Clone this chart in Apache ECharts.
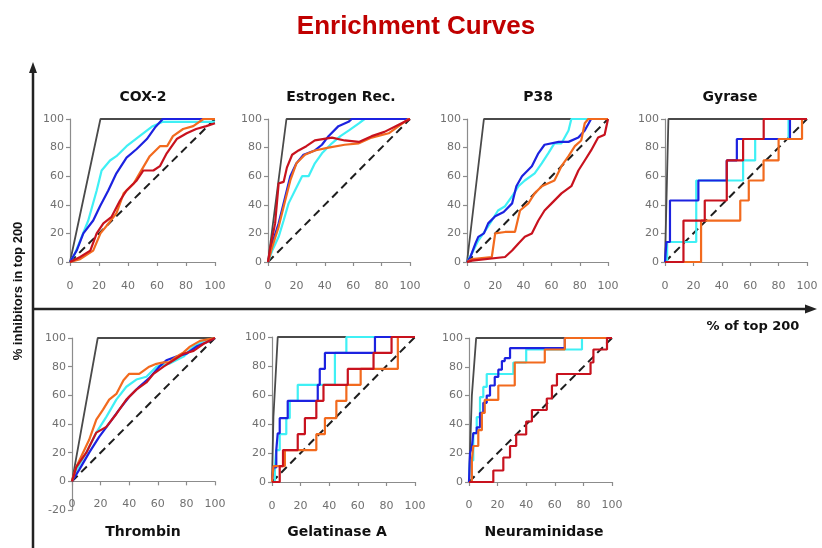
<!DOCTYPE html>
<html><head><meta charset="utf-8">
<script src="https://cdn.jsdelivr.net/npm/echarts/dist/echarts.min.js"></script>
<style>html,body{margin:0;padding:0;background:#fff}#c{width:822px;height:548px}</style>
</head><body><div id="c"></div>
<script>
// ---- data (x = % of top 200, y = % inhibitors) ----
var ticks = [0, 20, 40, 60, 80, 100];
var panelNames = ['COX-2', 'Estrogen Rec.', 'P38', 'Gyrase', 'Thrombin', 'Gelatinase A', 'Neuraminidase'];
var randomLine = [[0, 0], [100, 100]];

var cox2Ideal = [[0,0],[21,100],[100,100]];
var cox2Cyan = [[0,0],[3,5],[7,15],[12.6,29],[18.4,50],[21.8,64],[27.6,71],[32,74],[39,81],[48,88],[57,95],[64,98],[100,98]];
var cox2Blue = [[0,0],[4.6,8],[9.2,20],[16,29],[20.7,39],[26.4,50],[32,62],[39,73],[46,79],[53,86],[58.6,94],[64,100],[100,100]];
var cox2Orange = [[0,0],[7,2],[16,8],[21,20],[25,25],[32,34],[37,48],[44,55],[48,62],[55,74],[62,81],[67,81],[71,88],[78,93],[85,95],[92,100],[100,100]];
var cox2Red = [[0,0],[7,3.5],[14,8],[18.4,20],[23,27],[28.7,31.6],[34.5,43],[39,50],[46,57],[50.6,64],[57.5,64],[62,67],[66.7,76],[73.6,86],[80.5,90],[87,93],[94,95],[100,97]];

var estIdeal = [[0,0],[13,100],[100,100]];
var estCyan = [[0,0],[3,8],[7.5,17.6],[11,29],[14.5,41],[19,50],[24,60],[28.6,60],[33,69],[38,76],[45,83],[51,88],[57,92],[64,97],[68,100],[100,100]];
var estBlue = [[0,0],[3,13],[7.5,27],[11,41],[15.7,60],[20,69],[25,75],[33,78],[38,82],[42.6,88],[49.6,95],[56.7,98],[59,100],[100,100]];
var estOrange = [[0,0],[3,10.5],[7.5,24.6],[11,38.6],[15.7,57],[20,69],[26,75],[33,78],[42.6,80],[54,82],[64,83],[73,87],[85,90],[92,95],[99,100],[100,100]];
var estRed = [[0,0],[1.6,10],[5,27],[7.5,55],[11,56],[13.3,66],[17,75],[21.5,78],[27,81],[33,85],[45,87],[54,85],[64,84],[73,88],[82,91],[92,96],[100,100]];

var p38Ideal = [[0,0],[12,100],[100,100]];
var p38Cyan = [[0,0],[3.5,6],[8,15],[13,22],[17.6,29],[22,36],[27,39],[32,46],[36.5,53],[41,57],[48,62],[53,69],[57.6,76],[62,83],[67,83],[72,92],[74,100],[100,100]];
var p38Blue = [[0,0],[2.4,3.5],[6,13],[8,17.6],[12,20],[15,27],[20,32],[26,35],[32,41],[35,53],[39,60],[46,67],[50.6,76],[55,82],[65,84],[72,84],[79,87],[83.5,92],[88,100],[100,100]];
var p38Orange = [[0,0],[3.5,2],[17.6,3.5],[20,20],[27,21],[34,21],[37.6,36],[43.5,41],[48,48],[53,53],[62,57],[67,67],[72,74],[76.5,81],[81,85],[83.5,97],[86,100],[100,100]];
var p38Red = [[0,0],[3.5,1],[27,3.5],[32,8],[36.5,13],[41,17.6],[46,20],[50.6,29],[55,36],[60,41],[67,48],[74,53],[79,64],[83.5,71],[88,78],[93,87],[97.6,89],[100,100]];

// step curves: [x where the step happens, value after the step]
var gyrIdeal = [[0,0],[2.4,100],[100,100]];
var gyrCyan = [[0,0],[1.5,14],[22,57],[55,71],[63.5,86],[87,100],[100,100]];
var gyrBlue = [[0,0],[1,14],[3.5,43],[23.5,57],[43.5,71],[50.6,86],[88,100],[100,100]];
var gyrOrange = [[0,0],[25.4,29],[53,43],[59,57],[69.4,71],[80,86],[96.5,100],[100,100]];
var gyrRed = [[0,0],[13,29],[28,43],[43.5,71],[55,86],[69.5,100],[100,100]];

var thrIdeal = [[0,0],[18,100],[100,100]];
var thrCyan = [[0,0],[3,8],[10,20],[17,34],[24,45],[31,57],[38,66],[45,71],[52,73],[59,80],[68,82],[78,87],[85,94],[92,98],[100,100]];
var thrBlue = [[0,0],[5,8],[12,20],[19,31],[26,40.5],[33,50],[40,59],[47,66],[54,72],[61,80],[66,84.5],[73,87],[80,89],[87,94],[94,97],[100,100]];
var thrOrange = [[0,0],[3,10],[7.7,20],[12,29],[17,43],[21.7,50],[26,57],[31,61],[36,70.6],[40,75],[47,75],[54,80],[59,82],[64,83],[68,83],[73,87],[78,90],[82.5,94],[89.5,98],[100,100]];
var thrRed = [[0,0],[3,10],[10,20],[17,34],[24,38],[31,47],[38,57],[45,64],[52,69],[57,75],[64,80],[71,84.5],[78,89],[85,91],[92,96],[100,100]];

var gelIdeal = [[0,0],[1,45],[4,100],[100,100]];
var gelCyan = [[0,0],[2,11],[3,22],[5.4,33],[10,44],[12.4,56],[18,67],[44,89],[52,100],[100,100]];
var gelBlue = [[0,0],[1,10],[3,22],[4,33.6],[5.4,44],[11,56],[32,67],[33.4,78],[37,89],[72,100],[100,100]];
var gelOrange = [[0,0],[1,11],[9,22],[31,33],[37,44],[45,56],[52,67],[62,78],[88,100],[100,100]];
var gelRed = [[0,0],[5.4,11],[7.7,22],[18,33],[23,44],[31,56],[36,67],[53,78],[71,89],[83.6,100],[100,100]];

var neuIdeal = [[0,0],[2,60],[5,100],[100,100]];
var neuCyan = [[0,0],[0.7,15],[3,34],[5.4,45],[7.7,59],[10,66],[12.4,75],[31,83],[40,92],[79,100],[100,100]];
var neuBlue = [[0,0],[0.7,20],[2,24],[3,34],[5.4,38],[7.7,48],[10,55],[12.4,60],[14.7,67],[18,73],[20.5,78],[23,84],[25,86],[28.7,93],[67,100],[100,100]];
var neuOrange = [[0,0],[2,15],[3,25],[6.5,36],[9,48],[11,57],[20.5,67],[32,83],[53,92],[67,100],[100,100]];
var neuRed = [[0,0],[17,8],[24,17],[28.7,25],[33,33],[40,42],[44,50],[54.4,58],[58,67],[61.5,75],[85,83],[87,92],[96.5,100],[100,100]];

// ---- layout ----
var panels = [
  {grid:{left:70,top:119,width:145,height:143}, ymin:0, step:false, lm:19, d:[cox2Ideal,cox2Cyan,cox2Blue,cox2Orange,cox2Red]},
  {grid:{left:268,top:119,width:142,height:143}, ymin:0, step:false, lm:19, d:[estIdeal,estCyan,estBlue,estOrange,estRed]},
  {grid:{left:467,top:119,width:141,height:143}, ymin:0, step:false, lm:19, d:[p38Ideal,p38Cyan,p38Blue,p38Orange,p38Red]},
  {grid:{left:665,top:119,width:142,height:143}, ymin:0, step:'end', lm:19, d:[gyrIdeal,gyrCyan,gyrBlue,gyrOrange,gyrRed]},
  {grid:{left:72,top:338,width:143,height:172}, ymin:-20, step:false, lm:-11, d:[thrIdeal,thrCyan,thrBlue,thrOrange,thrRed]},
  {grid:{left:272,top:337,width:143,height:145}, ymin:0, step:'end', lm:19, d:[gelIdeal,gelCyan,gelBlue,gelOrange,gelRed]},
  {grid:{left:469,top:338,width:143,height:144}, ymin:0, step:'end', lm:18, d:[neuIdeal,neuCyan,neuBlue,neuOrange,neuRed]}
];
var colors = {cyan:'#3ff0f5', blue:'#1c22e0', orange:'#f26a1e', red:'#c8121e', ideal:'#4a4a4a', rnd:'#1e1e1e'};
var axisLineStyle = {color:'#8c8c8c', width:1.2};
var labelStyle = {color:'#707070', fontSize:11, fontFamily:'DejaVu Sans'};

var grids = [], xAxes = [], yAxes = [], series = [];
panels.forEach(function(p, i){
  grids.push(p.grid);
  xAxes.push({gridIndex:i, type:'value', min:0, max:100, interval:20,
    axisLine:{show:true, onZero:true, lineStyle:axisLineStyle},
    axisTick:{show:true, length:4, lineStyle:axisLineStyle},
    axisLabel:Object.assign({margin:p.lm}, labelStyle), splitLine:{show:false}});
  yAxes.push({gridIndex:i, type:'value', min:p.ymin, max:100, interval:20,
    axisLine:{show:true, lineStyle:axisLineStyle},
    axisTick:{show:true, length:4, lineStyle:axisLineStyle},
    axisLabel:Object.assign({margin:6}, labelStyle), splitLine:{show:false}});
  var base = {type:'line', xAxisIndex:i, yAxisIndex:i, showSymbol:false, symbol:'none', silent:true};
  series.push(Object.assign({}, base, {data:p.d[0], lineStyle:{color:colors.ideal, width:1.8}}));
  series.push(Object.assign({}, base, {data:randomLine, lineStyle:{color:colors.rnd, width:2, type:[8,5]}}));
  var cs = [colors.cyan, colors.blue, colors.orange, colors.red];
  for (var k = 0; k < 4; k++) {
    series.push(Object.assign({}, base, {data:p.d[k+1], step:p.step, lineStyle:{color:cs[k], width:2.2}}));
  }
});

function txt(x, y, s, size, color, family, rot) {
  return {type:'text', x:x, y:y, rotation:rot||0, z:100,
    style:{text:s, fill:color||'#111', font:'bold '+size+'px '+(family||'"DejaVu Sans"'), textAlign:'center', textVerticalAlign:'middle'}};
}
var graphics = [
  txt(416, 27, 'Enrichment Curves', 26, '#c00000', '"Liberation Sans", Arial'),
  txt(143, 97, panelNames[0], 14), txt(341, 97, panelNames[1], 14), txt(538, 97, panelNames[2], 14), txt(730, 97, panelNames[3], 14),
  txt(143, 532, panelNames[4], 14), txt(337, 532, panelNames[5], 14), txt(544, 532, panelNames[6], 14),
  txt(753, 327, '% of top 200', 13),
  txt(18, 291, '% inhibitors in top 200', 13, '#111', '"Liberation Sans", Arial', Math.PI/2),
  {type:'line', z:100, shape:{x1:33, y1:548, x2:33, y2:70}, style:{stroke:'#222', lineWidth:2.5}},
  {type:'polygon', z:100, shape:{points:[[33,62],[29,73],[37,73]]}, style:{fill:'#222'}},
  {type:'line', z:100, shape:{x1:33, y1:309, x2:808, y2:309}, style:{stroke:'#222', lineWidth:2.5}},
  {type:'polygon', z:100, shape:{points:[[817,309],[805,304.5],[805,313.5]]}, style:{fill:'#222'}}
];

var chart = echarts.init(document.getElementById('c'), null, {renderer:'canvas'});
chart.setOption({animation:false, backgroundColor:'#fff', grid:grids, xAxis:xAxes, yAxis:yAxes, series:series, graphic:graphics});
</script></body></html>
